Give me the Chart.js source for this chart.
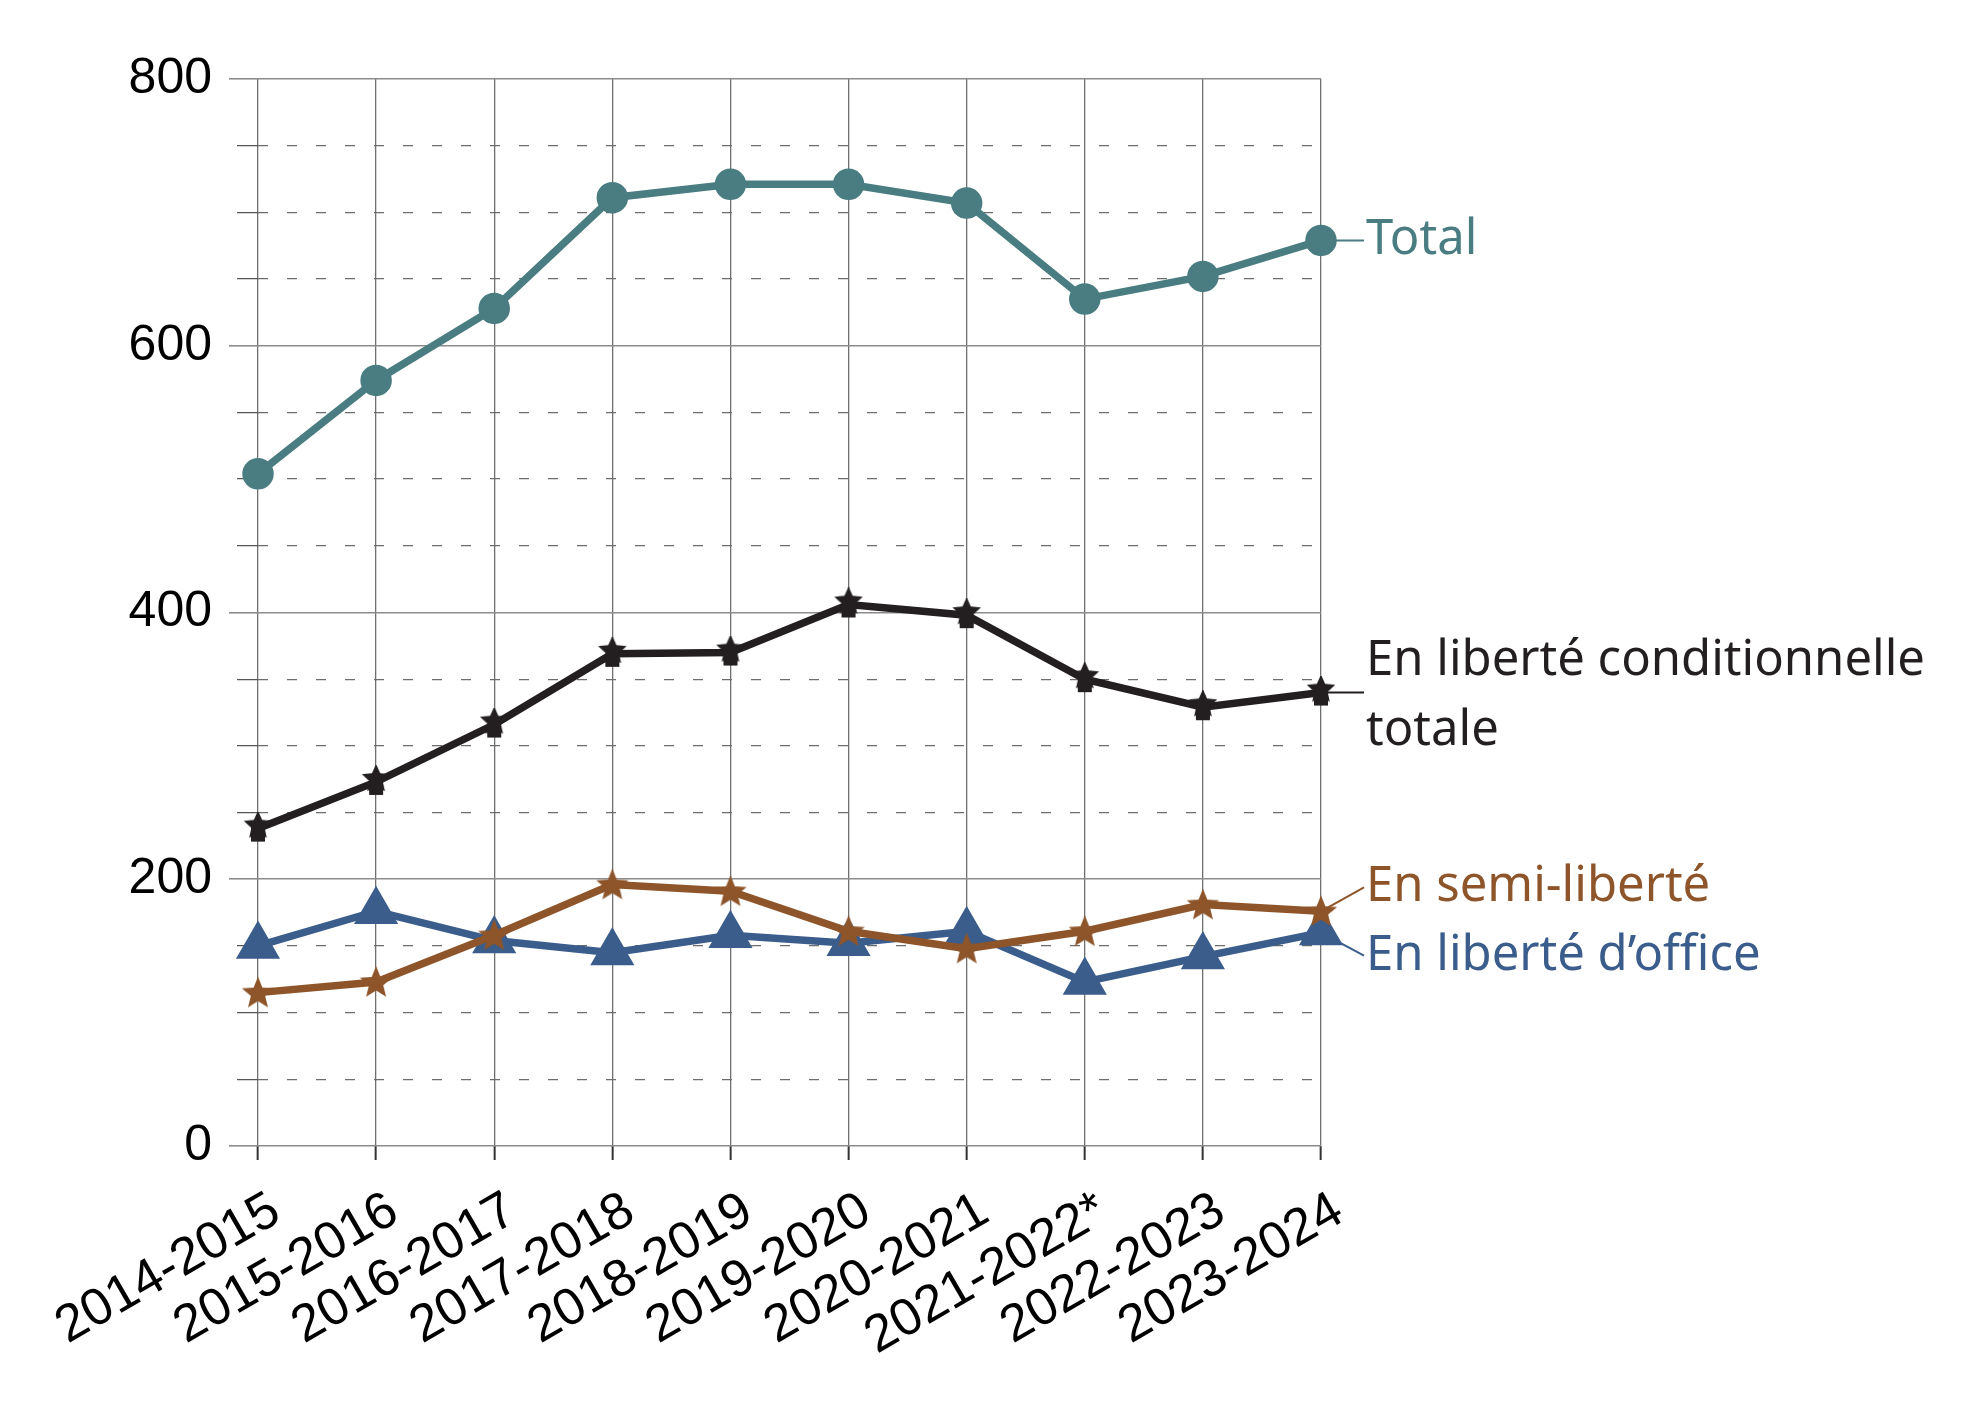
<!DOCTYPE html>
<html lang="fr">
<head>
  <meta charset="UTF-8">
  <title>Libérations par type</title>
  <script src="https://cdn.jsdelivr.net/npm/chart.js"></script>
  <style>
    html, body {
      margin: 0;
      padding: 0;
      background: #ffffff;
    }
    .chart-container {
      width: 1973px;
      height: 1409px;
      position: relative;
    }
  </style>
</head>
<body>
  <div class="chart-container">
    <canvas id="releaseChart"></canvas>
  </div>

  <script>
    // Data
    const years = ["2014-2015", "2015-2016", "2016-2017", "2017-2018", "2018-2019",
                   "2019-2020", "2020-2021", "2021-2022*", "2022-2023", "2023-2024"];
    const totalValues = [504, 574, 628, 711, 721, 721, 707, 635, 652, 679];
    const conditionalValues = [238, 273, 316, 369, 370, 406, 398, 350, 329, 340];
    const semiValues = [115, 123, 158, 196, 191, 161, 148, 161, 181, 176];
    const officeValues = [150, 176, 154, 145, 158, 152, 161, 123, 142, 160];

    const colors = {
      total: '#4a7d81',
      conditional: '#231f20',
      semi: '#8e552a',
      office: '#3b5d8c'
    };

    // Custom markers (filled star, and the odd square/star marker of the black series)
    function starPath(c, cx, cy, outer, inner) {
      c.beginPath();
      for (let i = 0; i < 10; i++) {
        const r = i % 2 === 0 ? outer : inner;
        const a = -Math.PI / 2 + i * Math.PI / 5;
        const px = cx + r * Math.cos(a);
        const py = cy + r * Math.sin(a);
        if (i === 0) c.moveTo(px, py); else c.lineTo(px, py);
      }
      c.closePath();
    }

    function makeStar(color) {
      const cv = document.createElement('canvas');
      cv.width = 36; cv.height = 36;
      const c = cv.getContext('2d');
      c.fillStyle = color;
      starPath(c, 18, 19, 17, 7.5);
      c.fill();
      return cv;
    }

    function makeBlockStar(color) {
      const cv = document.createElement('canvas');
      cv.width = 32; cv.height = 34;
      const c = cv.getContext('2d');
      c.fillStyle = color;
      starPath(c, 16, 14, 15, 7);
      c.fill();
      c.fillRect(9, 15, 14, 15);
      return cv;
    }

    // Labels at the end of each line
    const endLabels = {
      'Total': { lines: ['Total'], dy: 0, leaderToText: false },
      'En liberté conditionnelle totale': { lines: ['En liberté conditionnelle', 'totale'], dy: -31, leaderToText: false },
      'En semi-liberté': { lines: ['En semi-liberté'], dy: -24, leaderToText: true },
      'En liberté d’office': { lines: ['En liberté d’office'], dy: 23, leaderToText: true }
    };

    const endLabelPlugin = {
      id: 'endLabels',
      afterDatasetsDraw(chart) {
        const ctx = chart.ctx;
        const textX = chart.chartArea.right + 45;
        chart.data.datasets.forEach((ds, i) => {
          const cfg = endLabels[ds.label];
          if (!cfg) return;
          const meta = chart.getDatasetMeta(i);
          const pt = meta.data[meta.data.length - 1];
          const textY = pt.y + cfg.dy;
          ctx.save();
          ctx.strokeStyle = ds.borderColor;
          ctx.lineWidth = 2;
          ctx.beginPath();
          ctx.moveTo(pt.x, pt.y);
          if (cfg.leaderToText) {
            ctx.lineTo(textX - 2, textY);
          } else {
            ctx.lineTo(textX - 2, pt.y);
          }
          ctx.stroke();
          ctx.fillStyle = ds.borderColor;
          ctx.font = '49px "Noto Sans"';
          ctx.textAlign = 'left';
          ctx.textBaseline = 'middle';
          cfg.lines.forEach((line, k) => {
            ctx.fillText(line, textX, textY + k * 70);
          });
          ctx.restore();
        });
      }
    };

    const isMajor = ctx => ctx.tick && ctx.tick.value % 200 === 0;

    const ctx = document.getElementById('releaseChart').getContext('2d');
    const releaseChart = new Chart(ctx, {
      type: 'line',
      data: {
        labels: years,
        datasets: [
          {
            label: 'En semi-liberté',
            data: semiValues,
            borderColor: colors.semi,
            backgroundColor: colors.semi,
            borderWidth: 7.5,
            pointStyle: makeStar(colors.semi),
            pointRadius: 14,
            clip: false
          },
          {
            label: 'En liberté d’office',
            data: officeValues,
            borderColor: colors.office,
            backgroundColor: colors.office,
            borderWidth: 7.5,
            pointStyle: 'triangle',
            pointRadius: 18,
            clip: false
          },
          {
            label: 'En liberté conditionnelle totale',
            data: conditionalValues,
            borderColor: colors.conditional,
            backgroundColor: colors.conditional,
            borderWidth: 7.5,
            pointStyle: makeBlockStar(colors.conditional),
            pointRadius: 14,
            clip: false
          },
          {
            label: 'Total',
            data: totalValues,
            borderColor: colors.total,
            backgroundColor: colors.total,
            borderWidth: 7.5,
            pointStyle: 'circle',
            pointRadius: 12,
            clip: false
          }
        ]
      },
      options: {
        responsive: true,
        maintainAspectRatio: false,
        animation: false,
        layout: {
          padding: { top: 79, right: 652, bottom: 0, left: 0 }
        },
        scales: {
          x: {
            offset: false,
            afterFit: scale => { scale.height = 263; },
            grid: {
              color: '#6f6f6f',
              lineWidth: 1.3,
              tickLength: 14,
              tickColor: '#333333',
              tickWidth: 2
            },
            border: { display: false },
            ticks: {
              autoSkip: false,
              minRotation: 30,
              maxRotation: 30,
              padding: 20,
              labelOffset: 18,
              color: '#000000',
              font: { family: '"Liberation Sans", Arial, sans-serif', size: 52 }
            }
          },
          y: {
            min: 0,
            max: 800,
            afterFit: scale => { scale.width = 258; },
            grid: {
              color: ctx => isMajor(ctx) ? '#8c8c8c' : '#6c6c6c',
              lineWidth: ctx => isMajor(ctx) ? 1.6 : 1.3,
              tickLength: 29,
              tickColor: ctx => isMajor(ctx) ? '#8c8c8c' : '#555555',
              tickBorderDash: ctx => isMajor(ctx) ? [] : [0, 8, 21, 100]
            },
            border: {
              display: false,
              dash: ctx => isMajor(ctx) ? [] : [10, 19]
            },
            ticks: {
              stepSize: 50,
              autoSkip: false,
              padding: 17,
              color: '#000000',
              font: { family: '"Liberation Sans", Arial, sans-serif', size: 50 },
              callback: value => value % 200 === 0 ? value : ''
            }
          }
        },
        plugins: {
          legend: { display: false },
          tooltip: { enabled: false }
        }
      },
      plugins: [endLabelPlugin]
    });
  </script>
</body>
</html>
